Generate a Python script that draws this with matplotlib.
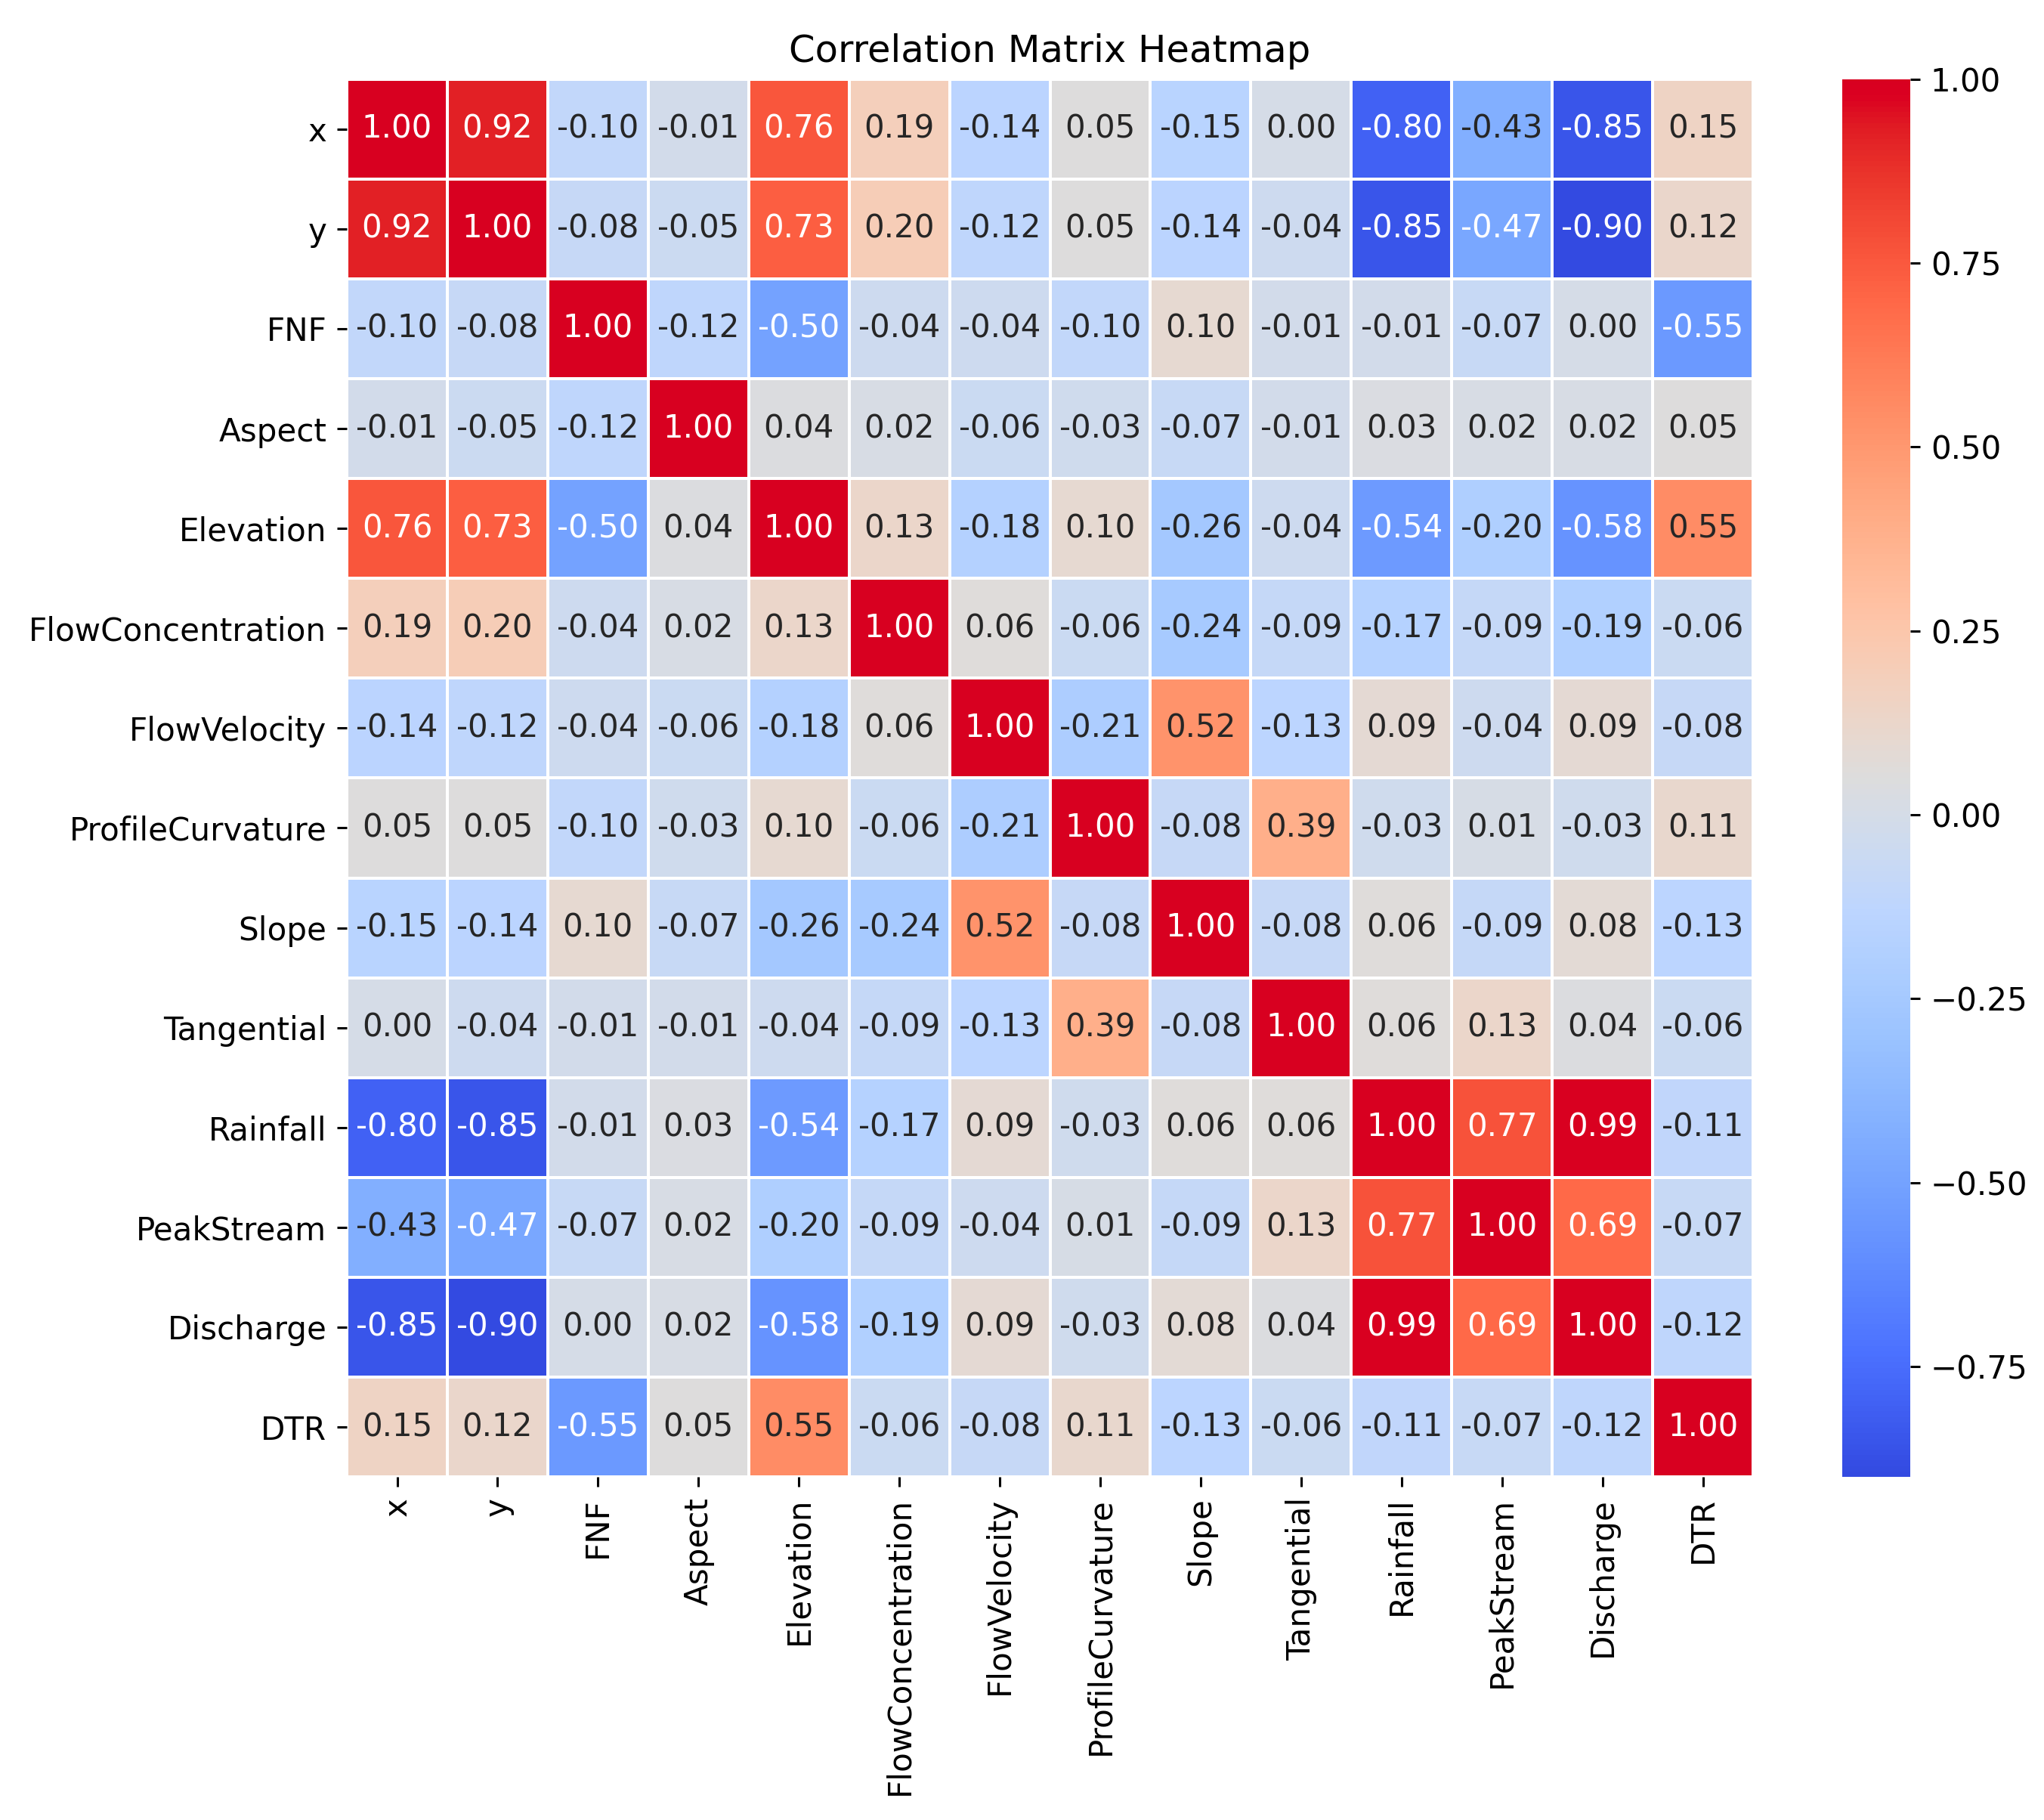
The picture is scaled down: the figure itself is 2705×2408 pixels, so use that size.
import numpy as np
import matplotlib
matplotlib.use("Agg")
import matplotlib.pyplot as plt
from matplotlib.colors import ListedColormap

labels = ["x", "y", "FNF", "Aspect", "Elevation", "FlowConcentration", "FlowVelocity",
          "ProfileCurvature", "Slope", "Tangential", "Rainfall", "PeakStream", "Discharge", "DTR"]

row_x = [1.00, 0.92, -0.10, -0.01, 0.76, 0.19, -0.14, 0.05, -0.15, 0.00, -0.80, -0.43, -0.85, 0.15]
row_y = [0.92, 1.00, -0.08, -0.05, 0.73, 0.20, -0.12, 0.05, -0.14, -0.04, -0.85, -0.47, -0.90, 0.12]
row_fnf = [-0.10, -0.08, 1.00, -0.12, -0.50, -0.04, -0.04, -0.10, 0.10, -0.01, -0.01, -0.07, 0.00, -0.55]
row_aspect = [-0.01, -0.05, -0.12, 1.00, 0.04, 0.02, -0.06, -0.03, -0.07, -0.01, 0.03, 0.02, 0.02, 0.05]
row_elev = [0.76, 0.73, -0.50, 0.04, 1.00, 0.13, -0.18, 0.10, -0.26, -0.04, -0.54, -0.20, -0.58, 0.55]
row_fconc = [0.19, 0.20, -0.04, 0.02, 0.13, 1.00, 0.06, -0.06, -0.24, -0.09, -0.17, -0.09, -0.19, -0.06]
row_fvel = [-0.14, -0.12, -0.04, -0.06, -0.18, 0.06, 1.00, -0.21, 0.52, -0.13, 0.09, -0.04, 0.09, -0.08]
row_pcurv = [0.05, 0.05, -0.10, -0.03, 0.10, -0.06, -0.21, 1.00, -0.08, 0.39, -0.03, 0.01, -0.03, 0.11]
row_slope = [-0.15, -0.14, 0.10, -0.07, -0.26, -0.24, 0.52, -0.08, 1.00, -0.08, 0.06, -0.09, 0.08, -0.13]
row_tang = [0.00, -0.04, -0.01, -0.01, -0.04, -0.09, -0.13, 0.39, -0.08, 1.00, 0.06, 0.13, 0.04, -0.06]
row_rain = [-0.80, -0.85, -0.01, 0.03, -0.54, -0.17, 0.09, -0.03, 0.06, 0.06, 1.00, 0.77, 0.99, -0.11]
row_peak = [-0.43, -0.47, -0.07, 0.02, -0.20, -0.09, -0.04, 0.01, -0.09, 0.13, 0.77, 1.00, 0.69, -0.07]
row_disch = [-0.85, -0.90, 0.00, 0.02, -0.58, -0.19, 0.09, -0.03, 0.08, 0.04, 0.99, 0.69, 1.00, -0.12]
row_dtr = [0.15, 0.12, -0.55, 0.05, 0.55, -0.06, -0.08, 0.11, -0.13, -0.06, -0.11, -0.07, -0.12, 1.00]

corr = np.array([row_x, row_y, row_fnf, row_aspect, row_elev, row_fconc, row_fvel,
                 row_pcurv, row_slope, row_tang, row_rain, row_peak, row_disch, row_dtr])


def luminance(rgb):
    rgb = np.asarray(rgb[:3])
    lin = np.where(rgb <= 0.03928, rgb / 12.92, ((rgb + 0.055) / 1.055) ** 2.4)
    return 0.2126 * lin[0] + 0.7152 * lin[1] + 0.0722 * lin[2]


# coolwarm, but a bit more saturated like the reference picture
base = plt.get_cmap("coolwarm")
cols = base(np.linspace(0, 1, 256))[:, :3]
gray = (cols @ np.array([0.299, 0.587, 0.114]))[:, None]
vivid = np.clip(gray + 1.3 * (cols - gray), 0, 1)
cmap = ListedColormap(vivid)

plt.rcParams["font.size"] = 11

fig = plt.figure(figsize=(2705 / 275, 2408 / 275), dpi=275)
ax = fig.add_axes([0.1697, 0.1885, 0.688, 0.768])
cax = fig.add_axes([0.9013, 0.1885, 0.0333, 0.768])

n = len(labels)
mesh = ax.pcolormesh(corr, cmap=cmap, vmin=corr.min(), vmax=corr.max(),
                     edgecolors="white", linewidth=0.6)
ax.set_xlim(0, n)
ax.set_ylim(n, 0)

# annotate cells, seaborn style text colour
for i in range(n):
    for j in range(n):
        c = base(mesh.norm(corr[i, j]))
        col = ".15" if luminance(c) > 0.408 else "w"
        ax.text(j + 0.5, i + 0.5, f"{corr[i, j]:.2f}", ha="center", va="center", color=col)

ax.set_xticks(np.arange(n) + 0.5)
ax.set_yticks(np.arange(n) + 0.5)
ax.set_xticklabels(labels, rotation=90)
ax.set_yticklabels(labels, rotation=0)
for s in ax.spines.values():
    s.set_visible(False)
ax.set_title("Correlation Matrix Heatmap", fontsize=13)

cb = fig.colorbar(mesh, cax=cax)
cb.outline.set_linewidth(0)

fig.savefig("out.png", dpi=275)
